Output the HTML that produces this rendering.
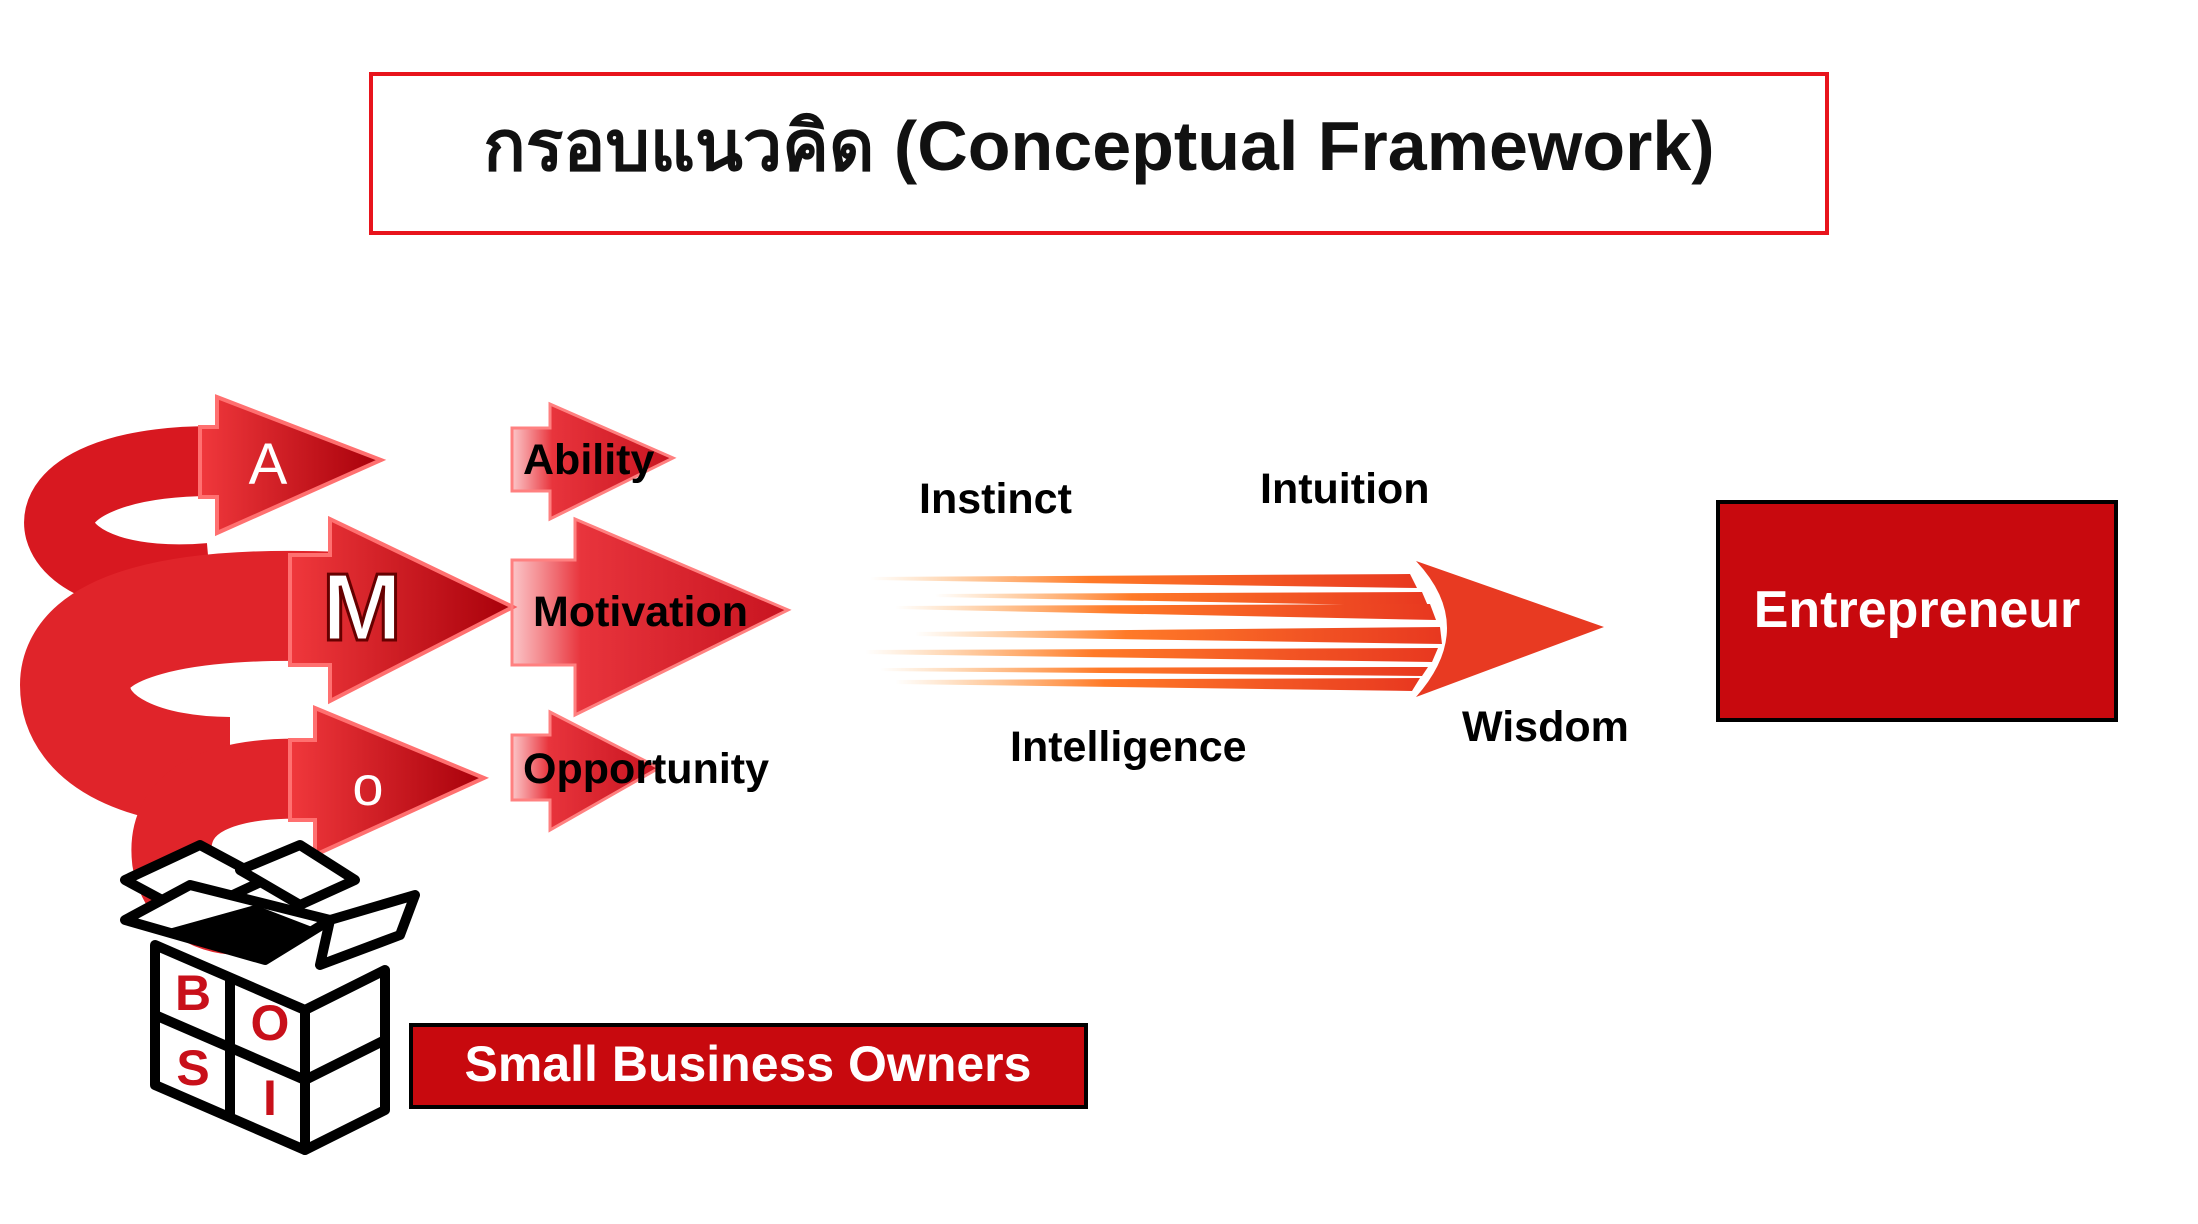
<!DOCTYPE html>
<html><head><meta charset="utf-8"><style>
html,body{margin:0;padding:0;background:#fff;}
svg{display:block;}
text{font-family:"Liberation Sans","DejaVu Sans","Noto Sans CJK SC",sans-serif;}
</style></head><body>
<svg width="2198" height="1224" viewBox="0 0 2198 1224" xmlns="http://www.w3.org/2000/svg">
<defs>
<linearGradient id="red" x1="0" y1="0" x2="1" y2="0">
<stop offset="0" stop-color="#f0383c"/><stop offset="1" stop-color="#a8000a"/></linearGradient>
<linearGradient id="fade" x1="0" y1="0" x2="1" y2="0">
<stop offset="0" stop-color="#f04048" stop-opacity="0.3"/><stop offset="0.25" stop-color="#e8343c"/><stop offset="1" stop-color="#c81420"/></linearGradient>
<linearGradient id="org" x1="0" y1="0" x2="1" y2="0">
<stop offset="0" stop-color="#ff9a30" stop-opacity="0"/><stop offset="0.4" stop-color="#ff7a28"/><stop offset="1" stop-color="#e83820"/></linearGradient>
</defs>

<rect x="371" y="74" width="1456" height="159" fill="#fff" stroke="#e8141c" stroke-width="4"/>
<text x="1099" y="170" font-size="70" font-weight="bold" text-anchor="middle" fill="#111">กรอบแนวคิด (Conceptual Framework)</text>

<!-- AMO spiral -->
<path d="M 240 462 C 120 455, 50 490, 60 530 C 70 565, 130 585, 210 578" fill="none" stroke="#d81820" stroke-width="70"/>
<path d="M 340 607 C 180 600, 75 625, 75 685 C 75 745, 150 772, 230 772" fill="none" stroke="#e0242a" stroke-width="110"/>
<path d="M 330 780 C 220 772, 165 800, 172 860 C 178 895, 205 915, 240 915" fill="none" stroke="#e0242a" stroke-width="80"/>
<polygon points="217,397 381,460 217,533 217,497 200,497 200,427 217,427" fill="url(#red)" stroke="#ff7070" stroke-width="4"/>
<polygon points="330,519 513,607 330,701 330,665 290,665 290,555 330,555" fill="url(#red)" stroke="#ff7070" stroke-width="4"/>
<polygon points="315,708 484,778 315,855 315,820 290,820 290,740 315,740" fill="url(#red)" stroke="#ff7070" stroke-width="4"/>
<text x="268" y="484" font-size="58" fill="#fff" text-anchor="middle">A</text>
<text x="362" y="640" font-size="96" font-weight="bold" fill="#fff" stroke="#600" stroke-width="3" text-anchor="middle">M</text>
<text x="368" y="805" font-size="56" fill="#fff" text-anchor="middle">o</text>

<!-- box -->
<g stroke="#000" stroke-width="10" fill="#fff" stroke-linejoin="round">
<polygon points="125,880 200,845 265,880 190,915"/>
<polygon points="240,870 300,845 355,880 300,905"/>
<polygon points="125,920 190,885 330,920 265,960"/>
<polygon points="330,920 415,895 400,935 320,965"/>
<polygon points="155,945 305,1010 305,1150 155,1085"/>
<polygon points="305,1010 385,970 385,1110 305,1150"/>
<line x1="155" y1="1015" x2="305" y2="1080"/><line x1="230" y1="978" x2="230" y2="1118"/><line x1="305" y1="1080" x2="385" y2="1040"/>
</g>
<polygon points="165,930 255,905 320,930 260,960" fill="#000"/>
<text x="193" y="1010" font-size="50" font-weight="bold" fill="#c8101a" text-anchor="middle">B</text>
<text x="270" y="1040" font-size="50" font-weight="bold" fill="#c8101a" text-anchor="middle">O</text>
<text x="193" y="1085" font-size="50" font-weight="bold" fill="#c8101a" text-anchor="middle">S</text>
<text x="270" y="1115" font-size="50" font-weight="bold" fill="#c8101a" text-anchor="middle">I</text>

<!-- faded arrows -->
<polygon points="512,428 550,428 550,404 673,458 550,519 550,491 512,491" fill="url(#fade)" stroke="#ff8080" stroke-width="3"/>
<polygon points="512,560 575,560 575,519 788,610 575,715 575,665 512,665" fill="url(#fade)" stroke="#ff8080" stroke-width="3"/>
<polygon points="512,735 550,735 550,712 659,768 550,830 550,800 512,800" fill="url(#fade)" stroke="#ff8080" stroke-width="3"/>
<g font-size="43" font-weight="bold" fill="#000">
<text x="523" y="474">Ability</text>
<text x="533" y="626">Motivation</text>
<text x="523" y="783">Opportunity</text>
<text x="919" y="513">Instinct</text>
<text x="1260" y="503">Intuition</text>
<text x="1010" y="761">Intelligence</text>
<text x="1462" y="741">Wisdom</text>
</g>

<!-- speed arrow -->
<g fill="url(#org)">
<polygon points="870,577 1410,574 1417,588 870,580"/>
<polygon points="935,594 1422,592 1428,606 935,597"/>
<polygon points="895,606 1430,604 1436,620 895,609"/>
<polygon points="915,632 1440,627 1442,644 915,636"/>
<polygon points="865,650 1438,648 1432,662 865,654"/>
<polygon points="880,668 1428,667 1422,676 880,671"/>
<polygon points="895,680 1420,678 1412,691 895,684"/>
</g>
<path d="M 1416 561 L 1604 627 L 1416 697 Q 1478 627 1416 561 Z" fill="#e83a22"/>

<!-- boxes -->
<rect x="1718" y="502" width="398" height="218" fill="#c8090e" stroke="#000" stroke-width="4"/>
<text x="1917" y="627" font-size="52" font-weight="bold" fill="#fff" text-anchor="middle">Entrepreneur</text>
<rect x="411" y="1025" width="675" height="82" fill="#c8090e" stroke="#000" stroke-width="4"/>
<text x="748" y="1081" font-size="50" font-weight="bold" fill="#fff" text-anchor="middle">Small Business Owners</text>
</svg>
</body></html>
